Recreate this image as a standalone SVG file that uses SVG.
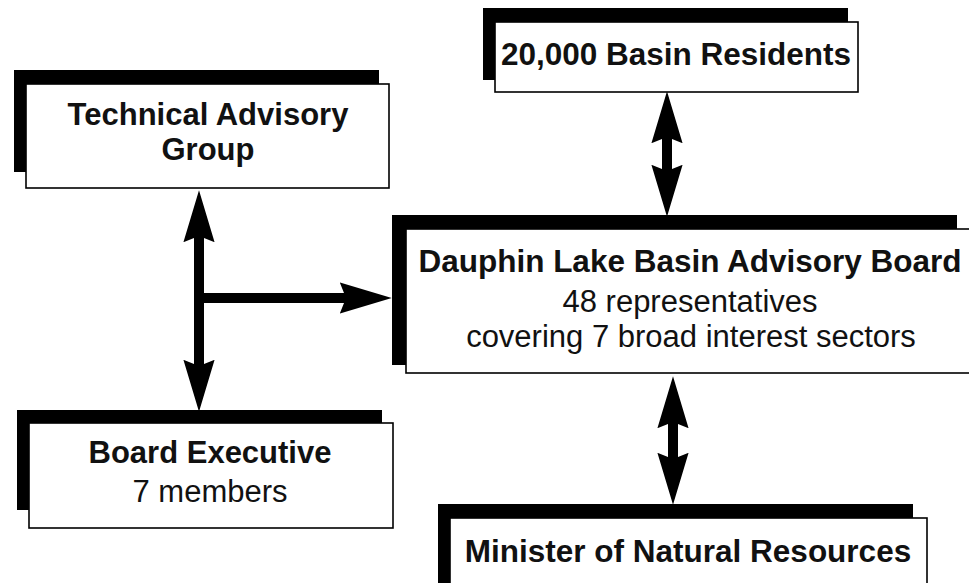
<svg xmlns="http://www.w3.org/2000/svg" width="969" height="583" viewBox="0 0 969 583">
  <style>
    .shadow { fill: #000; }
    .box { fill: #fff; stroke: #000; stroke-width: 1.6; }
    .t { font-family: "Liberation Sans", Arial, Helvetica, sans-serif; fill: #111; text-anchor: middle; font-size: 31px; }
    .b { font-weight: bold; }
    .conn { stroke: #000; stroke-width: 10; fill: none; }
  </style>
  <defs>
    <marker id="head" markerUnits="userSpaceOnUse" markerWidth="52" markerHeight="32" viewBox="0 0 50 30" refX="6" refY="15" orient="auto-start-reverse">
      <path d="M0,0 L50,15 L0,30 L6,15 Z" fill="#000"/>
    </marker>
  </defs>
  <rect width="969" height="583" fill="#fff"/>

  <g id="connectors">
    <line class="conn" x1="199" y1="236" x2="199" y2="366" marker-start="url(#head)" marker-end="url(#head)"/>
    <line class="conn" x1="194" y1="298" x2="346" y2="298" marker-end="url(#head)"/>
    <line class="conn" x1="667" y1="137" x2="667" y2="171" marker-start="url(#head)" marker-end="url(#head)"/>
    <line class="conn" x1="673" y1="422" x2="673" y2="459" marker-start="url(#head)" marker-end="url(#head)"/>
  </g>

  <g id="technical-advisory-group">
    <rect class="shadow" x="14" y="70" width="365" height="102"/>
    <rect class="box" x="26" y="84" width="363" height="104"/>
    <text class="t b" x="208" y="125">Technical Advisory</text>
    <text class="t b" x="208" y="160">Group</text>
  </g>

  <g id="basin-residents">
    <rect class="shadow" x="483" y="8" width="365" height="72"/>
    <rect class="box" x="495" y="22" width="363" height="70"/>
    <text class="t b" x="676" y="65" style="font-size:31.5px">20,000 Basin Residents</text>
  </g>

  <g id="advisory-board">
    <rect class="shadow" x="392" y="215" width="565" height="150"/>
    <rect class="box" x="406" y="229" width="566" height="144"/>
    <text class="t b" x="690" y="272" style="font-size:31.5px">Dauphin Lake Basin Advisory Board</text>
    <text class="t" x="690" y="312">48 representatives</text>
    <text class="t" x="691" y="347">covering 7 broad interest sectors</text>
  </g>

  <g id="board-executive">
    <rect class="shadow" x="17" y="410" width="365" height="100"/>
    <rect class="box" x="29" y="423" width="364" height="105"/>
    <text class="t b" x="210" y="463">Board Executive</text>
    <text class="t" x="210" y="502">7 members</text>
  </g>

  <g id="minister">
    <rect class="shadow" x="438" y="504" width="475" height="80"/>
    <rect class="box" x="450" y="518" width="477" height="80"/>
    <text class="t b" x="688" y="562" style="font-size:31.5px">Minister of Natural Resources</text>
  </g>
</svg>
